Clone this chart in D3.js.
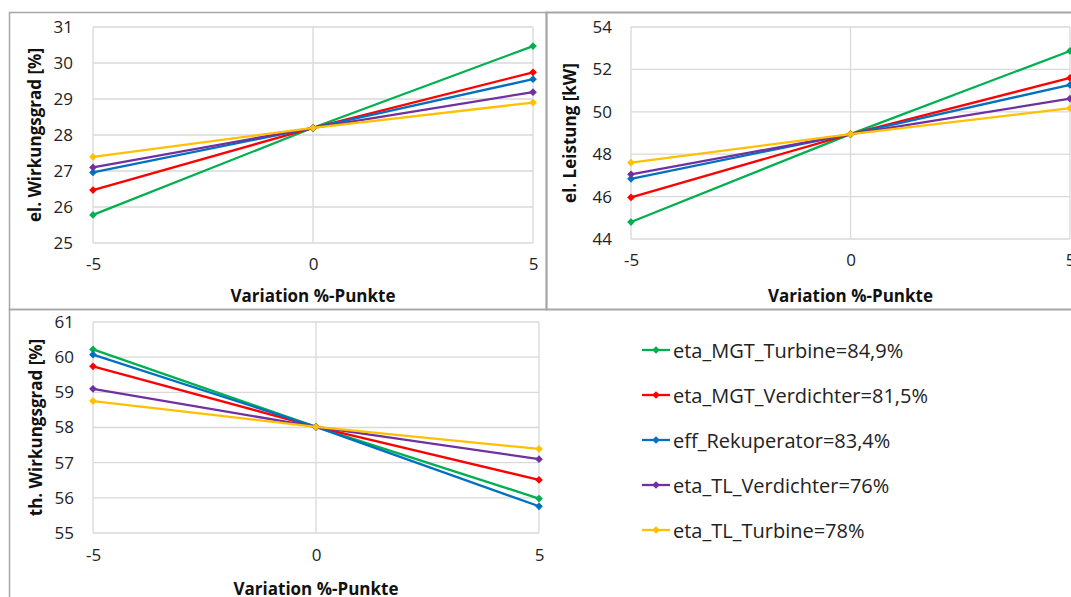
<!DOCTYPE html>
<html>
<head>
<meta charset="utf-8">
<script src="https://cdn.jsdelivr.net/npm/d3@7"></script>
<style>
  body { margin: 0; background: #fff; }
  svg { font-family: "Open Sans", sans-serif; }
  .tick text { font-size: 17px; font-family: "Open Sans", sans-serif; }
</style>
</head>
<body>
<div id="chart"></div>
<script>
// data
var xValues = [-5, 0, 5];
var seriesNames = ["eta_MGT_Turbine=84,9%", "eta_MGT_Verdichter=81,5%", "eff_Rekuperator=83,4%",
                   "eta_TL_Verdichter=76%", "eta_TL_Turbine=78%"];
var seriesColors = ["#00B050", "#FF0000", "#0070C0", "#7030A0", "#FFC000"];

var elWirkungsgrad = [
    [25.78, 28.2, 30.47],
    [26.47, 28.2, 29.74],
    [26.96, 28.2, 29.55],
    [27.1, 28.2, 29.19],
    [27.39, 28.2, 28.9]
];
var elLeistung = [
    [44.8, 48.95, 52.87],
    [45.96, 48.95, 51.6],
    [46.84, 48.95, 51.27],
    [47.05, 48.95, 50.62],
    [47.6, 48.95, 50.17]
];
var thWirkungsgrad = [
    [60.22, 58.02, 55.98],
    [59.74, 58.02, 56.51],
    [60.07, 58.02, 55.76],
    [59.1, 58.02, 57.1],
    [58.75, 58.02, 57.39]
];

var xTicks = [-5, 0, 5];
var yTicksElEta = [25, 26, 27, 28, 29, 30, 31];
var yTicksLeistung = [44, 46, 48, 50, 52, 54];
var yTicksThEta = [55, 56, 57, 58, 59, 60, 61];

var WIDTH = 1071, HEIGHT = 597;
var BORDERCOLOR = "#a6a6a6";
var GRIDCOLOR = "#d9d9d9";

var svg = d3.select("#chart").append("svg")
    .attr("width", WIDTH)
    .attr("height", HEIGHT);

// excel style diamond: a square turned by 45 degrees
var diamond = d3.symbol().type(d3.symbolSquare).size(30);

function LinePanel(opts){
    this.opts = opts;
    this.xscale = d3.scaleLinear().domain([-5, 5]).range([opts.left, opts.right]);
    this.yscale = d3.scaleLinear()
        .domain([opts.yTicks[0], opts.yTicks[opts.yTicks.length-1]])
        .range([opts.bottom, opts.top]);
    this.g = svg.append("g").attr("class", "panel");
    this.drawGrid();
    this.drawAxes();
    this.drawSeries();
}

LinePanel.prototype.drawGrid = function(){
    var o = this.opts, xs = this.xscale, ys = this.yscale;
    this.g.append("g").selectAll("line.h")
        .data(o.yTicks)
        .join("line")
        .attr("x1", o.left).attr("x2", o.right)
        .attr("y1", function(d){ return ys(d); })
        .attr("y2", function(d){ return ys(d); })
        .attr("stroke", GRIDCOLOR).attr("stroke-width", 1.3);
    this.g.append("g").selectAll("line.v")
        .data(xTicks)
        .join("line")
        .attr("x1", function(d){ return xs(d); })
        .attr("x2", function(d){ return xs(d); })
        .attr("y1", o.top).attr("y2", o.bottom)
        .attr("stroke", GRIDCOLOR).attr("stroke-width", 1.3);
};

LinePanel.prototype.drawAxes = function(){
    var o = this.opts;
    var yaxis = this.g.append("g")
        .attr("transform", "translate(" + o.left + ",0)")
        .call(d3.axisLeft(this.yscale).tickValues(o.yTicks).tickSize(0)
            .tickPadding(o.left - o.yLabelRight).tickFormat(d3.format("d")));
    var xaxis = this.g.append("g")
        .attr("transform", "translate(0," + o.bottom + ")")
        .call(d3.axisBottom(this.xscale).tickValues(xTicks).tickSize(0)
            .tickPadding(o.xLabelY - o.bottom - 12).tickFormat(d3.format("d")));
    [xaxis, yaxis].forEach(function(ax){
        ax.attr("font-size", 17).attr("font-family", "Open Sans");
        ax.select(".domain").remove();
        ax.selectAll("text")
            .attr("font-size", 17)
            .attr("fill", "#222");
    });
    xaxis.selectAll("text").text(function(d){ return d < 0 ? "-" + Math.abs(d) : d; });

    this.g.append("text")
        .attr("x", (o.left + o.right) / 2)
        .attr("y", o.xTitleY)
        .attr("text-anchor", "middle")
        .attr("dominant-baseline", "central")
        .attr("font-weight", "bold")
        .attr("font-size", 17)
        .attr("fill", "#111")
        .text("Variation %-Punkte");

    this.g.append("text")
        .attr("transform", "translate(" + o.yTitleX + "," + ((o.top + o.bottom) / 2) + ") rotate(-90)")
        .attr("text-anchor", "middle")
        .attr("dominant-baseline", "central")
        .attr("font-weight", "bold")
        .attr("font-size", 17)
        .attr("fill", "#111")
        .text(o.yTitle);
};

LinePanel.prototype.drawSeries = function(){
    var xs = this.xscale, ys = this.yscale;
    var line = d3.line()
        .x(function(d, i){ return xs(xValues[i]); })
        .y(function(d){ return ys(d); });

    var groups = this.g.append("g").selectAll("g.series")
        .data(this.opts.values)
        .join("g")
        .attr("class", "series");

    groups.append("path")
        .attr("d", function(d){ return line(d); })
        .attr("fill", "none")
        .attr("stroke", function(d, i){ return seriesColors[i]; })
        .attr("stroke-width", 2.3);

    groups.each(function(d, i){
        d3.select(this).selectAll("path.marker")
            .data(d)
            .join("path")
            .attr("class", "marker")
            .attr("d", diamond)
            .attr("transform", function(v, j){ return "translate(" + xs(xValues[j]) + "," + ys(v) + ") rotate(45)"; })
            .attr("fill", seriesColors[i]);
    });
};

// panel frames
var frames = svg.append("g").attr("fill", "none").attr("stroke", BORDERCOLOR);
frames.append("rect").attr("x", 9.5).attr("y", 12.5).attr("width", 537).attr("height", 297).attr("stroke-width", 1.5);
frames.append("rect").attr("x", 546.5).attr("y", 12.5).attr("width", 540).attr("height", 297).attr("stroke-width", 2);
frames.append("path").attr("d", "M9.5,600 V309.5 H546.5").attr("stroke-width", 1.5);

new LinePanel({
    values: elWirkungsgrad, yTicks: yTicksElEta, yTitle: "el. Wirkungsgrad [%]",
    left: 93, right: 533, top: 27, bottom: 243,
    yLabelRight: 73, xLabelY: 270, xTitleY: 295, yTitleX: 34
});

new LinePanel({
    values: elLeistung, yTicks: yTicksLeistung, yTitle: "el. Leistung [kW]",
    left: 631, right: 1070, top: 27, bottom: 239,
    yLabelRight: 612, xLabelY: 266, xTitleY: 295, yTitleX: 569
});

new LinePanel({
    values: thWirkungsgrad, yTicks: yTicksThEta, yTitle: "th. Wirkungsgrad [%]",
    left: 93, right: 539, top: 322, bottom: 533,
    yLabelRight: 74, xLabelY: 561, xTitleY: 588, yTitleX: 35
});

// legend
var legendRows = svg.append("g").selectAll("g.legend")
    .data(seriesNames)
    .join("g")
    .attr("class", "legend")
    .attr("transform", function(d, i){ return "translate(642," + (350 + i * 45) + ")"; });

legendRows.append("line")
    .attr("x1", 0).attr("x2", 28)
    .attr("stroke", function(d, i){ return seriesColors[i]; })
    .attr("stroke-width", 2.3);
legendRows.append("path")
    .attr("d", diamond)
    .attr("transform", "translate(14,0) rotate(45)")
    .attr("fill", function(d, i){ return seriesColors[i]; });
legendRows.append("text")
    .attr("x", 31)
    .attr("dominant-baseline", "central")
    .attr("font-size", 20)
    .attr("fill", "#222")
    .text(function(d){ return d; });
</script>
</body>
</html>
